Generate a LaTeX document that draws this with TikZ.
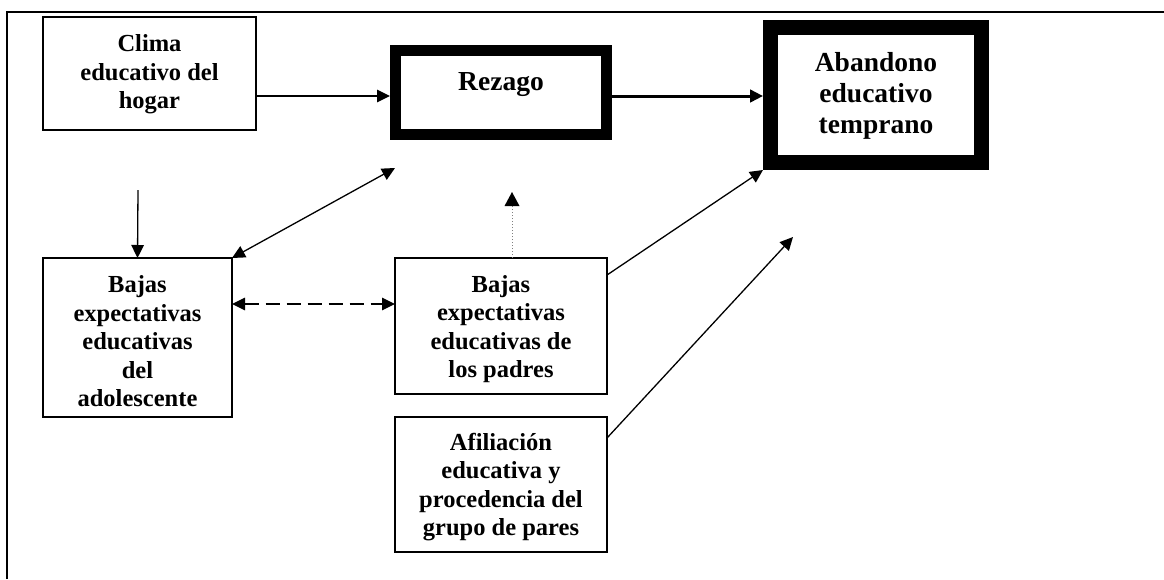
\documentclass[tikz,border=0pt]{standalone}
\usepackage{fontspec}
\setmainfont{Liberation Serif}
\newcommand\bxfont{\bfseries\fontsize{24.5pt}{28.5pt}\selectfont}
\newcommand\bigbxfont{\bfseries\fontsize{27.5pt}{31pt}\selectfont}
\usetikzlibrary{arrows.meta}
\begin{document}
\begin{tikzpicture}[x=1pt,y=-1pt,
  box/.style={draw, line width=1.3pt, inner sep=0pt, outer sep=0pt},
  thickbox/.style={draw, inner sep=0pt},
  txt/.style={inner sep=0pt, align=center, font=\bxfont},
  bigtxt/.style={inner sep=0pt, align=center, font=\bigbxfont},
  arr/.style={line width=1.3pt, -{Triangle[length=13pt,width=12.5pt]}},
  darr/.style={line width=1.3pt, {Triangle[length=13pt,width=12.5pt]}-{Triangle[length=13pt,width=12.5pt]}},
]
\useasboundingbox (0,0) rectangle (1164,579);
% frame
\draw[line width=2pt] (7,579) -- (7,12) -- (1164,12);

% boxes
\node[box, minimum width=213pt, minimum height=113pt] (clima) at (149.5,73.5) {};
\node[thickbox, line width=11pt, minimum width=211pt, minimum height=84pt] (rezago) at (501,92) {};
\node[thickbox, line width=15pt, minimum width=211pt, minimum height=135.5pt] (aband) at (876,94.75) {};
\node[box, minimum width=189pt, minimum height=159pt] (adol) at (137.5,337.5) {};
\node[box, minimum width=212pt, minimum height=136pt] (padres) at (501,326) {};
\node[box, minimum width=212pt, minimum height=135pt] (afil) at (501,484.5) {};

% texts
\node[txt] (climaT) at (149.5,74.4) {Clima\\educativo del\\hogar};
\node[bigtxt] (rezagoT) at (501,84.6) {Rezago};
\node[bigtxt] (abandT) at (876,95.4) {Abandono\\educativo\\temprano};
\node[txt] (adolT) at (137.5,341.4) {Bajas\\expectativas\\educativas\\del\\adolescente};
\node[txt] (padresT) at (501,329) {Bajas\\expectativas\\educativas de\\los padres};
\node[txt] (afilT) at (501,486.9) {Afiliación\\educativa y\\procedencia del\\grupo de pares};

\coordinate (vtop) at (138,190);
\coordinate (dtip) at (395,168);
\coordinate (dottip) at (512,192);
\coordinate (afiltip) at (793,237);

% connectors
\draw[arr] ([yshift=-22.5pt]clima.east) -- ([yshift=-22.5pt]clima.east -| rezago.west);
\draw[arr, line width=3pt] ([yshift=-4pt]rezago.east) -- ([yshift=-4pt]rezago.east -| aband.west);
\draw[arr] (vtop) -- (adol.north);
\draw[darr] (adol.north east) -- (dtip);
\draw[darr, dash pattern=on 14pt off 7pt] ([yshift=33.5pt]adol.east) -- ([yshift=33.5pt]adol.east -| padres.west);
\draw[line width=1pt, gray, dash pattern=on 1.5pt off 1.5pt] ([xshift=11pt]padres.north) -- ([yshift=-13pt]dottip);
\fill ([xshift=-7.5pt,yshift=-14pt]dottip) -- (dottip) -- ([xshift=7.5pt,yshift=-14pt]dottip) -- cycle;
\draw[arr] ([yshift=51pt]padres.east) -- (aband.south west);
\draw[arr] ([yshift=46.5pt]afil.east) -- (afiltip);
\end{tikzpicture}
\end{document}
